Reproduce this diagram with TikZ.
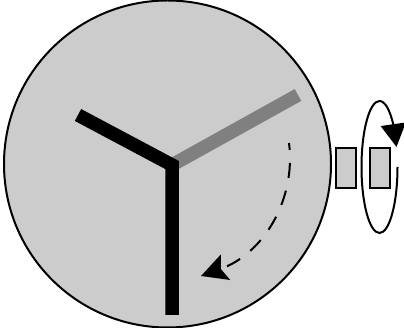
\documentclass[tikz,border=0pt]{standalone}
\usepackage{tikz}
\usetikzlibrary{arrows.meta}
\tikzset{hand/.style={line width=13.5pt},crown/.style={draw=black,line width=2pt,fill=black!20}}
\begin{document}
\begin{tikzpicture}[x=1pt,y=1pt,>=Stealth]
\useasboundingbox (0,0) rectangle (404,328);
\draw[line width=2pt,fill=black!20] (167.5,164) circle (163.5);
\draw[hand,black!50] (172,163)--(298,233);
\draw[hand] (78,213)--(172,163)--(172,13);
\draw[->,dash pattern=on 15pt off 13pt,dash phase=8pt,line width=2pt,>={Stealth[length=26pt,width=27pt,inset=5pt]}] (289,185) .. controls (296,130) and (265,75) .. (201,52);
\draw[crown] (336,140) rectangle (356,180);\draw[crown] (370,140) rectangle (390,180);
\draw[->,line width=2pt,>={Triangle[length=23pt,width=25pt]}] (397.5,161) arc[start angle=0,end angle=-320,x radius=18,y radius=66]--(396.5,181);
\end{tikzpicture}
\end{document}
